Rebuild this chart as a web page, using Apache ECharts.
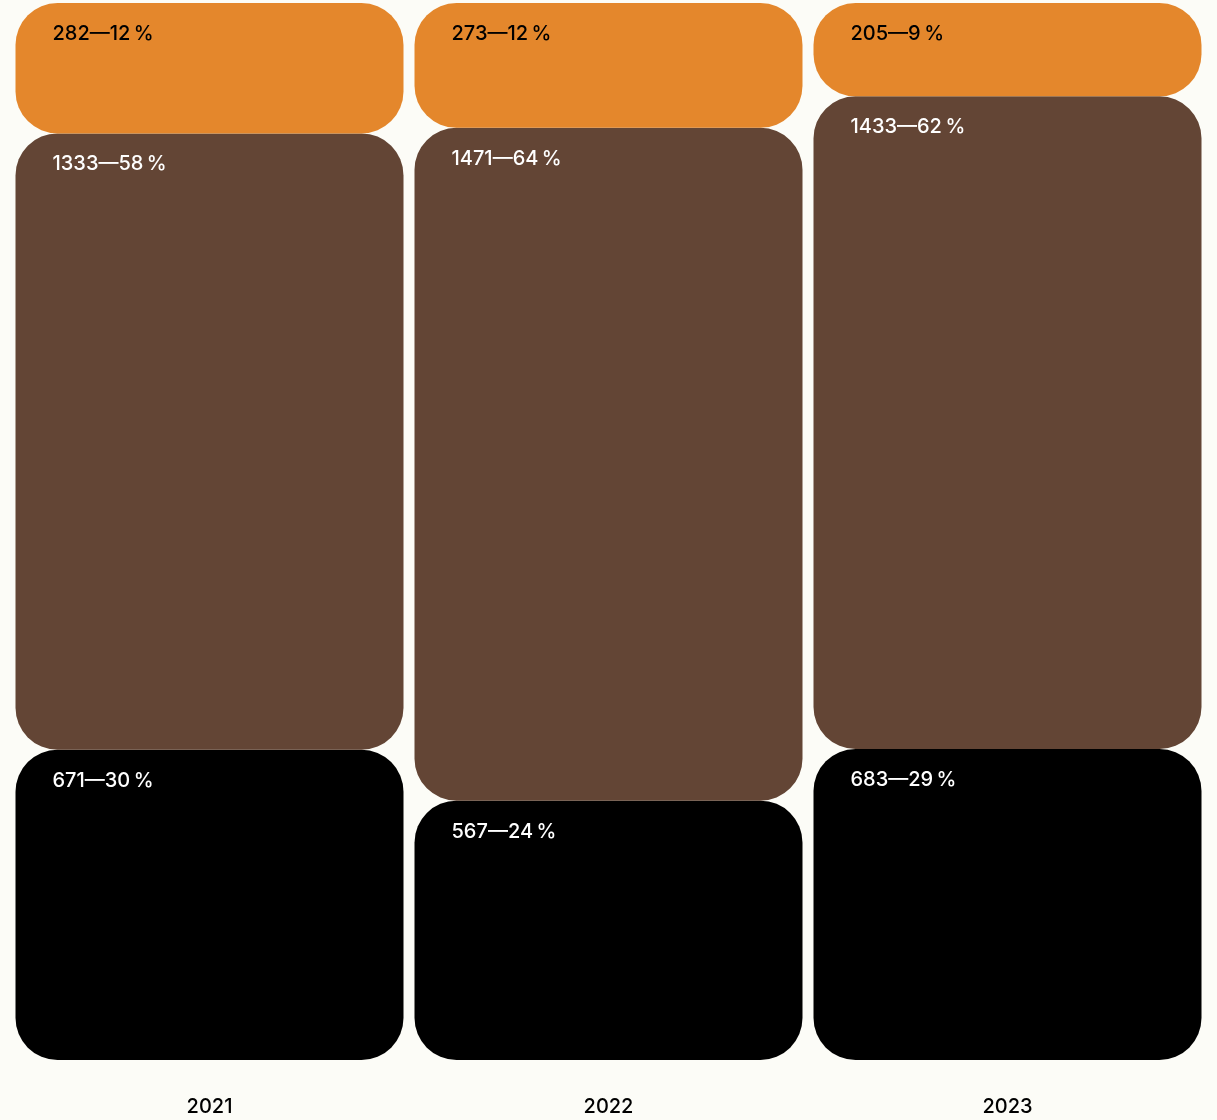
<!DOCTYPE html>
<html>
<head>
<meta charset="utf-8">
<script src="https://cdn.jsdelivr.net/npm/echarts@6/dist/echarts.min.js"></script>
<style>
  html, body { margin: 0; padding: 0; background: #fcfcf7; }
  #chart { width: 1217px; height: 1120px; }
</style>
</head>
<body>
<div id="chart"></div>
<script>
const years = ['2021', '2022', '2023'];
const bottomValues = [671, 567, 683];
const middleValues = [1333, 1471, 1433];
const topValues = [282, 273, 205];
const bottomPct = [30, 24, 29];
const middlePct = [58, 64, 62];
const topPct = [12, 12, 9];

const totals = years.map((y, i) => bottomValues[i] + middleValues[i] + topValues[i]);
const share = (arr) => arr.map((v, i) => v / totals[i] * 100);

function segment(name, values, pcts, color, textColor) {
  return {
    name: name,
    type: 'bar',
    stack: 'all',
    barWidth: 388,
    data: share(values).map((v, i) => ({ value: v, raw: values[i], pct: pcts[i] })),
    itemStyle: { color: color, borderRadius: 42 },
    label: {
      show: true,
      position: [37, 21],
      color: textColor,
      fontFamily: 'Inter',
      fontWeight: 500,
      fontSize: 20,
      formatter: (p) => p.data.raw + '\u2014' + p.data.pct + '\u202f%'
    },
    emphasis: { disabled: true }
  };
}

const chart = echarts.init(document.getElementById('chart'));
chart.setOption({
  backgroundColor: '#fcfcf7',
  animation: false,
  grid: { left: 10, right: 10, top: 3, bottom: 60 },
  xAxis: {
    type: 'category',
    data: years,
    axisLine: { show: false },
    axisTick: { show: false },
    axisLabel: {
      margin: 37,
      color: '#000',
      fontFamily: 'Inter',
      fontWeight: 500,
      fontSize: 20
    }
  },
  yAxis: {
    type: 'value',
    min: 0,
    max: 100,
    show: false
  },
  series: [
    segment('bottom', bottomValues, bottomPct, '#000000', '#ffffff'),
    segment('middle', middleValues, middlePct, '#634535', '#ffffff'),
    segment('top', topValues, topPct, '#e4872c', '#000000')
  ]
});
</script>
</body>
</html>
